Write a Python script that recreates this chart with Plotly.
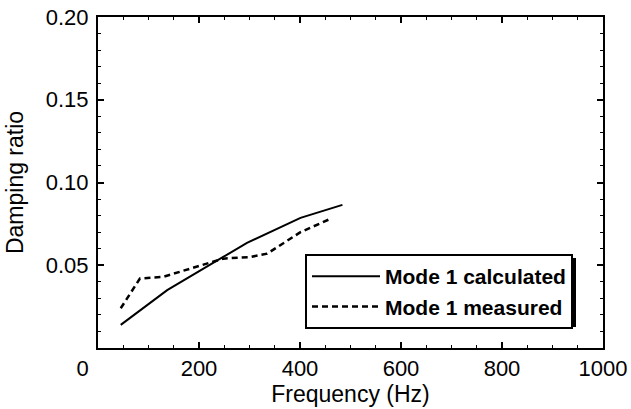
import plotly.graph_objects as go

# values
freq_calc = [45, 137, 248, 295, 401, 484]
damp_calc = [0.014, 0.035, 0.055, 0.0635, 0.0786, 0.0865]

freq_meas = [45, 83, 129, 248, 302, 335, 401, 460]
damp_meas = [0.024, 0.042, 0.043, 0.054, 0.055, 0.057, 0.070, 0.078]

x_ticks = [0, 200, 400, 600, 800, 1000]
x_tick_text = ["0" + "\u00a0" * 5, "200", "400", "600", "800", "1000"]
y_ticks = [0.05, 0.10, 0.15, 0.20]
y_tick_text = ["0.05", "0.10", "0.15", "0.20"]

FONT = "Liberation Sans, Arial, Helvetica, sans-serif"

W, H = 631, 409
L, T, R, B = 98, 17, 603, 348  # plot frame in pixels


def px(x):
    return (x - L) / (R - L)


def py(y):
    return (B - y) / (B - T)


fig = go.Figure()
fig.add_trace(go.Scatter(
    x=freq_calc, y=damp_calc, mode="lines", name="Mode 1 calculated",
    legendgroup="a", line=dict(color="black", width=2),
))
fig.add_trace(go.Scatter(
    x=freq_meas, y=damp_meas, mode="lines", name="Mode 1 measured",
    legendgroup="b", line=dict(color="black", width=2.5, dash="6px,4px"),
))

axis_common = dict(
    showline=True, linecolor="black", linewidth=2, mirror="allticks",
    ticks="inside", ticklen=6, tickwidth=1.5, tickcolor="black",
    showgrid=False, zeroline=False, automargin=False,
    ticklabeloverflow="allow",
    tickfont=dict(family=FONT, size=22, color="black"),
)

fig.update_xaxes(
    range=[0, 1000], tickvals=x_ticks, ticktext=x_tick_text,
    ticklabelstandoff=0,
    title=dict(text="Frequency (Hz)", font=dict(family=FONT, size=23, color="black"), standoff=0),
    minor=dict(dtick=50, tick0=0, ticks="inside", ticklen=3, tickcolor="black", tickwidth=1),
    **axis_common,
)
fig.update_yaxes(
    range=[0, 0.20], tickvals=y_ticks, ticktext=y_tick_text,
    ticklabelstandoff=3,
    title=dict(text="Damping ratio", font=dict(family=FONT, size=23, color="black"), standoff=16),
    minor=dict(dtick=0.01, tick0=0, ticks="inside", ticklen=3, tickcolor="black", tickwidth=1),
    **axis_common,
)

# legend drop shadow (paper coords)
fig.add_shape(
    type="rect", xref="paper", yref="paper",
    x0=px(309), x1=px(576), y0=py(327), y1=py(258),
    fillcolor="black", line=dict(width=0), layer="above",
)

fig.update_layout(
    width=W, height=H,
    margin=dict(l=L, r=W - R, t=T, b=H - B, autoexpand=False),
    plot_bgcolor="white", paper_bgcolor="white",
    font=dict(family=FONT, color="black"),
    legend=dict(
        x=px(305), y=py(254), xanchor="left", yanchor="top",
        bgcolor="white", bordercolor="black", borderwidth=2,
        font=dict(family=FONT, size=21, color="black", weight="bold"),
        itemwidth=68, tracegroupgap=0, traceorder="grouped",
    ),
)

# drop the page's default 8px body margin so the figure sits at the window corner
fig.write_html(
    "out.html",
    config={"displayModeBar": False},
    post_script="document.body.style.margin='0';",
)
